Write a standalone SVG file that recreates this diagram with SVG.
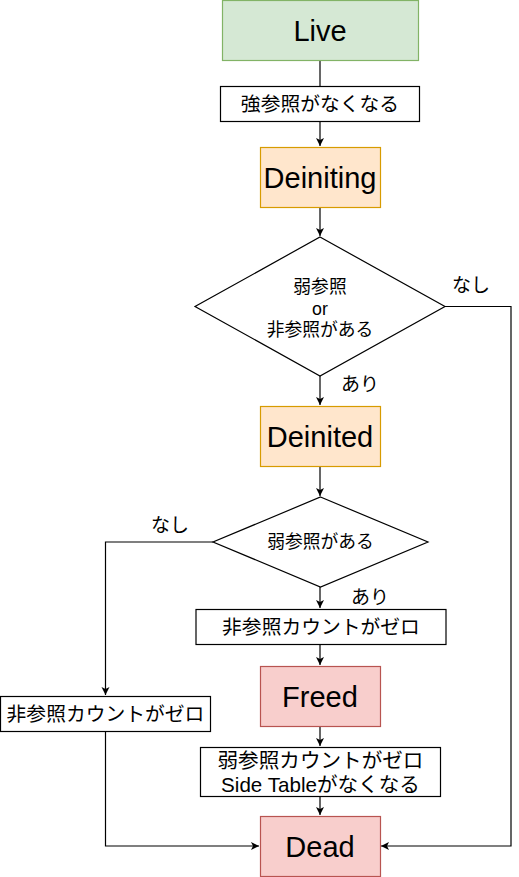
<svg xmlns="http://www.w3.org/2000/svg" width="519" height="877" viewBox="0 0 519 877">
<defs>
<style>
.big{font-family:"Liberation Sans",Arial,sans-serif;font-size:29px;fill:#000;text-anchor:middle;dominant-baseline:central}
.t{font-family:"Liberation Sans","Noto Sans CJK JP",sans-serif;font-size:19.8px;fill:#000;text-anchor:middle;dominant-baseline:central}
.w{font-family:"Liberation Sans","Noto Sans CJK JP",sans-serif;font-size:20.6px;fill:#000;text-anchor:middle;dominant-baseline:central}
.d{font-family:"Liberation Sans","Noto Sans CJK JP",sans-serif;font-size:17.8px;fill:#000;text-anchor:middle;dominant-baseline:central}
.l{font-family:"Liberation Sans","Noto Sans CJK JP",sans-serif;font-size:19px;fill:#000;text-anchor:middle;dominant-baseline:central}
.box{fill:#fff;stroke:#000;stroke-width:1.2}
.green{fill:#d5e8d4;stroke:#82b366;stroke-width:1.2}
.orange{fill:#ffe6cc;stroke:#d79b00;stroke-width:1.2}
.red{fill:#f8cecc;stroke:#b85450;stroke-width:1.2}
.edge{fill:none;stroke:#000;stroke-width:1.2}
</style>
<marker id="arr" markerUnits="userSpaceOnUse" markerWidth="10" markerHeight="10" refX="8" refY="4" orient="auto">
<path d="M0,0 L8,4 L0,8 L2,4 Z" fill="#000"/>
</marker>
</defs>
<g id="connectors">
<path class="edge" d="M320,60 V86"/>
<path class="edge" d="M320,121 V146" marker-end="url(#arr)"/>
<path class="edge" d="M320,207 V236" marker-end="url(#arr)"/>
<path class="edge" d="M320,376 V405" marker-end="url(#arr)"/>
<path class="edge" d="M320,466 V496" marker-end="url(#arr)"/>
<path class="edge" d="M320,587 V608" marker-end="url(#arr)"/>
<path class="edge" d="M320,644 V665" marker-end="url(#arr)"/>
<path class="edge" d="M320,726 V746" marker-end="url(#arr)"/>
<path class="edge" d="M320,796 V815" marker-end="url(#arr)"/>
<path class="edge" d="M213,542 H105.5 V695" marker-end="url(#arr)"/>
<path class="edge" d="M105.5,731 V846 H259" marker-end="url(#arr)"/>
<path class="edge" d="M445,306.5 H511 V846 H381" marker-end="url(#arr)"/>
<text class="l" x="471" y="285">なし</text>
<text class="l" x="360" y="384">あり</text>
<text class="l" x="170" y="525">なし</text>
<text class="l" x="370" y="597">あり</text>
</g>
<g id="live">
<rect class="green" x="222.5" y="0.5" width="196" height="60"/>
<text class="big" x="320" y="31">Live</text>
</g>
<g id="strong-gone">
<rect class="box" x="220.5" y="86.5" width="199" height="35"/>
<text class="t" x="320" y="104">強参照がなくなる</text>
</g>
<g id="deiniting">
<rect class="orange" x="260.5" y="147.5" width="120" height="60"/>
<text class="big" x="320" y="178">Deiniting</text>
</g>
<g id="decision1">
<polygon class="box" points="320,237 445,306.5 320,376 195,306.5"/>
<text class="d" x="320" y="287">弱参照</text>
<text class="d" x="320" y="309">or</text>
<text class="d" x="320" y="330">非参照がある</text>
</g>
<g id="deinited">
<rect class="orange" x="260.5" y="406.5" width="120" height="60"/>
<text class="big" x="320" y="437">Deinited</text>
</g>
<g id="decision2">
<polygon class="box" points="320.5,497 428,542 320.5,587 213,542"/>
<text class="d" x="320.5" y="542">弱参照がある</text>
</g>
<g id="unowned-zero-right">
<rect class="box" x="196" y="609.5" width="250" height="35"/>
<text class="t" x="321" y="627">非参照カウントがゼロ</text>
</g>
<g id="freed">
<rect class="red" x="260.5" y="666.5" width="120" height="60"/>
<text class="big" x="320" y="697">Freed</text>
</g>
<g id="unowned-zero-left">
<rect class="box" x="0.5" y="696.5" width="210" height="35"/>
<text class="t" x="105.5" y="714">非参照カウントがゼロ</text>
</g>
<g id="weak-zero">
<rect class="box" x="200.5" y="747.5" width="240" height="49"/>
<text class="w" x="320.5" y="760">弱参照カウントがゼロ</text>
<text class="w" x="320.5" y="784">Side Tableがなくなる</text>
</g>
<g id="dead">
<rect class="red" x="260.5" y="816.5" width="120" height="60"/>
<text class="big" x="320" y="847">Dead</text>
</g>
</svg>
